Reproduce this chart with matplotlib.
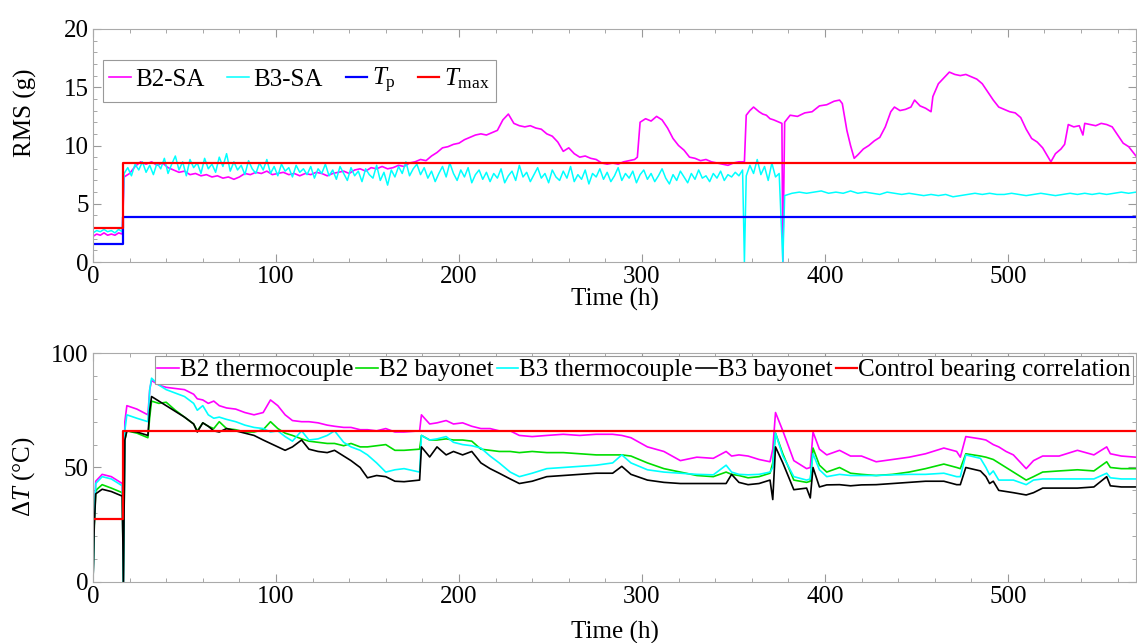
import matplotlib
matplotlib.use("Agg")
import matplotlib.pyplot as plt
import numpy as np

plt.rcParams['font.family'] = ['Liberation Serif', 'DejaVu Serif']
plt.rcParams['mathtext.fontset'] = 'custom'
plt.rcParams['mathtext.rm'] = 'Liberation Serif'
plt.rcParams['mathtext.it'] = 'Liberation Serif:italic'

# ---- top panel: vibration RMS ----
b2_sa_t = [0, 2, 4, 6, 8, 10, 12, 14, 16,
           17, 20, 23, 26, 29, 32, 35, 38, 41, 44,
           47, 50, 53, 56, 59, 62, 65, 68, 71, 74,
           77, 80, 83, 86, 89, 92, 95, 98, 101, 104,
           107, 110, 113, 116, 119, 122, 125, 128, 131, 134,
           137, 140, 143, 146, 149, 152, 155, 158, 161, 164,
           167, 170, 173, 176, 179, 182, 185, 188, 191, 194,
           197, 200, 203, 206, 209, 212, 215, 218, 221, 224,
           227, 230, 233, 236, 239, 242, 245, 248, 251, 254,
           257, 260, 263, 266, 269, 272, 275, 278, 281, 284,
           287, 290, 293, 296, 297.5, 299, 302, 305, 308, 311, 314,
           317, 320, 323, 326, 329, 332, 335, 338, 341, 344,
           347, 350, 353, 356,
           357, 359, 361, 364, 366, 368, 370, 372, 375, 376.5, 377, 378,
           381, 385, 389, 393, 397, 401, 405, 408, 409.5, 412, 414, 416,
           418, 421, 424, 427, 430, 433, 436, 438, 441, 444, 447, 449,
           452, 455, 458, 459, 462, 465, 468, 471, 474, 477, 480, 483,
           486, 489, 492, 495, 498, 501, 504, 507, 510, 513, 516, 519,
           522, 523.5, 526, 529, 531, 533, 536, 539, 541, 542, 545, 548,
           551, 554, 557, 560, 563, 566, 568, 570]
b2_sa = [2.2, 2.4, 2.3, 2.5, 2.3, 2.4, 2.3, 2.5, 2.4,
         7.3, 7.6, 8.2, 8.6, 8.4, 8.6, 8.3, 8.5, 8.1, 7.9,
         7.7, 7.8, 7.5, 7.6, 7.4, 7.5, 7.3, 7.4, 7.2, 7.3,
         7.1, 7.3, 7.6, 7.5, 7.7, 7.6, 7.8, 7.5, 7.6, 7.7,
         7.5, 7.6, 7.4, 7.6, 7.5, 7.7, 7.6, 7.4, 7.6, 7.7,
         7.8, 7.6, 7.9, 8.0, 7.8, 8.1, 8.0, 8.2, 8.0, 8.1,
         8.3, 8.2, 8.5, 8.6, 8.8, 8.7, 9.1, 9.4, 9.8, 9.9,
         10.1, 10.2, 10.5, 10.7, 10.9, 11.0, 10.9, 11.1, 11.3, 12.2,
         12.7, 11.9, 11.7, 11.6, 11.7, 11.5, 11.4, 11.0, 10.8, 10.3,
         9.5, 9.8, 9.3, 9.0, 9.1, 8.9, 8.8, 8.5, 8.4, 8.5,
         8.4, 8.6, 8.7, 8.8, 9.0, 12.0, 12.3, 12.1, 12.5, 12.2, 11.5,
         10.6, 10.0, 9.6, 9.0, 8.9, 8.7, 8.8, 8.6, 8.5, 8.4,
         8.3, 8.5, 8.6, 8.6,
         12.6, 13.0, 13.3, 12.9, 12.7, 12.6, 12.3, 12.2, 12.0, 11.9, 0, 12.0,
         12.6, 12.5, 12.8, 12.9, 13.4, 13.5, 13.8, 13.9, 13.6, 11.3, 10.0, 8.9,
         9.2, 9.7, 10.0, 10.4, 10.7, 11.6, 12.9, 13.3, 13.0, 13.1, 13.3, 13.9,
         13.4, 13.2, 12.9, 14.2, 15.3, 15.8, 16.3, 16.1, 16.0, 16.1, 15.9, 15.7,
         15.3, 14.6, 13.9, 13.3, 13.1, 12.9, 12.8, 12.4, 11.4, 10.6, 10.3, 9.8,
         9.0, 8.6, 9.3, 9.7, 10.1, 11.8, 11.6, 11.7, 10.9, 11.9, 11.8, 11.7,
         11.9, 11.8, 11.6, 10.9, 10.2, 9.9, 9.5, 9.1]

b3_sa_start = [2.5, 2.7, 2.6, 2.8, 2.6, 2.7, 2.5, 2.8, 2.6]          # t = 0..16, every 2 h
b3_sa_mid = [7.6, 8.1, 7.4, 8.4, 7.9, 8.6, 7.7, 8.3, 7.5, 8.5,       # t = 17..355, every 2 h
             8.0, 8.9, 7.6, 8.4, 9.1, 7.9, 8.6, 7.4, 8.8, 8.1,
             8.5, 7.6, 8.9, 8.0, 8.4, 7.7, 9.0, 8.2, 9.3, 7.8,
             8.6, 7.9, 8.3, 7.5, 8.7, 8.0, 7.6, 8.5, 7.9, 8.8,
             7.6, 8.2, 7.4, 8.4, 7.8, 8.1, 7.3, 8.3, 7.7, 8.0,
             7.5, 8.2, 7.2, 8.0, 7.6, 8.4, 7.4, 7.9, 7.1, 8.2,
             7.6, 7.0, 8.1, 7.4, 7.8, 6.9, 8.0, 7.5, 7.2, 8.3,
             7.0, 7.7, 6.6, 7.9, 7.3, 8.2, 7.6, 8.6, 7.4, 8.0,
             8.4, 7.5, 8.1, 7.2, 7.8, 6.9, 7.6, 8.2, 7.3, 8.5,
             7.6, 7.0, 7.9, 7.3, 8.1, 6.8, 7.5, 7.9, 7.1, 7.7,
             6.9, 7.6, 7.2, 8.0, 6.8, 7.4, 7.8, 7.0, 8.3, 7.3,
             7.7, 6.9, 7.5, 8.1, 7.2, 7.6, 6.8, 7.9, 7.3, 7.0,
             7.8, 7.2, 8.2, 6.9, 7.5, 7.1, 7.9, 6.7, 7.6, 7.3,
             8.0, 7.1, 7.7, 6.9, 7.4, 8.1, 7.0, 7.6, 7.2, 7.8,
             6.8, 7.5, 7.9, 7.1, 7.6, 6.9, 7.4, 8.0, 7.2, 6.7,
             7.5, 7.0, 7.8, 7.3, 6.8, 7.6, 7.1, 7.9, 7.2, 7.4,
             6.9, 7.6, 7.2, 7.8, 7.0, 7.5, 7.3, 7.7, 7.4, 7.9]
b3_sa_gap = [7.4, 8.3, 7.6, 8.8, 7.5, 8.2, 7.0, 8.5, 7.3, 7.6]      # t = 357..375, every 2 h
b3_sa_end = [5.7, 5.9, 6.0, 5.9, 6.0, 6.1, 5.9, 6.0, 5.9, 6.1,      # t = 378..570, every 4 h
             5.9, 6.0, 5.9, 5.8, 6.0, 5.9, 5.8, 5.9, 5.8, 5.7,
             5.8, 5.7, 5.8, 5.6, 5.7, 5.8, 5.9, 5.8, 5.9, 5.8,
             5.8, 5.9, 5.8, 5.7, 5.8, 5.9, 5.8, 5.7, 5.8, 5.9,
             5.8, 5.9, 5.8, 5.9, 5.8, 5.9, 6.0, 5.9, 6.0]
b3_sa_t = np.concatenate([np.arange(0, 17, 2), np.arange(17, 356, 2), [356],
                          np.arange(357, 376, 2), [377], np.arange(378, 571, 4)])
b3_sa = np.concatenate([b3_sa_start, b3_sa_mid, [0], b3_sa_gap, [0], b3_sa_end])

step_t = [0, 16.5, 570]
tp = [1.55, 3.85, 3.85]
tmax = [2.9, 8.5, 8.5]

# ---- bottom panel: temperature rise ----
dt_t = [0, 0.7, 1.5, 5, 10, 16, 16.6, 17.4, 18.5, 24, 30, 31, 32, 36, 40, 45, 50, 55, 57, 60,
        63, 66, 69, 73, 78, 83, 88, 93, 97, 101, 105, 109, 114, 118, 123, 128, 132, 137, 141, 146,
        150, 155, 160, 165, 170, 178.5, 179.5, 184, 188, 193, 197, 202, 207, 212, 217, 222, 228, 233, 240, 248,
        257, 266, 275, 284, 289, 294, 303, 312, 321, 330, 339, 346, 349, 353, 358, 364, 370, 371.5, 373, 377,
        383, 390, 392, 393.5, 397, 401, 408, 414, 420, 428, 437, 446, 455, 465, 472, 474, 477, 485, 488, 490,
        492, 495, 499, 503, 510, 514, 519, 528, 538, 547, 554, 556, 562, 570]
b2_tc = [0, 27, 44, 47, 46, 43, 0, 70, 77, 75.5, 73, 84, 88, 86, 85, 84.5, 84, 82, 80, 79.5,
         78, 79, 77, 76, 75.5, 74, 73, 74, 79.5, 77, 73, 70.5, 70, 70, 69.5, 68.5, 68, 67.5, 67.5, 66.5,
         66.5, 66, 67, 65.5, 65.5, 66, 73, 69, 69.5, 70.5, 69, 69.5, 68, 67, 67, 66, 66, 64, 63.5, 64,
         64.5, 64, 64.5, 64.5, 64, 63, 59, 57, 53, 54.5, 54, 57, 55, 55.5, 55, 53.5, 52.5, 58, 74, 66,
         53, 49.5, 50, 65.5, 58, 55.5, 57.5, 55, 55, 52.5, 53.5, 54.5, 56, 58.5, 57, 54.5, 63.5, 62.5, 62, 61,
         60, 59, 57, 55.5, 49.5, 53, 55, 55, 57.5, 55.5, 59, 56, 55, 54.5]
b2_bay = [0, 25, 40, 42.5, 41, 39, 0, 62, 66, 65, 63, 72, 79, 78, 78.5, 75, 72, 69, 66, 69.5,
          68, 67, 70, 67, 66.5, 65.5, 65.5, 66.5, 70, 67, 65, 64, 62.5, 61.5, 61, 60.5, 60.5, 59.5, 60.5, 59,
          59, 59.5, 60, 57.5, 57.5, 58, 64, 62, 62, 62.5, 62, 62, 61.5, 58, 57.5, 57, 57, 56.5, 57, 56.5,
          56.5, 56, 55.5, 55.5, 55.5, 55, 52, 49.5, 48, 46.5, 46, 48, 47, 46.5, 45.5, 46, 47.5, 52, 65, 56,
          44.5, 43.5, 44, 58.5, 51, 48, 50, 47.5, 47, 46.5, 47, 48, 49.5, 51.5, 50, 49.5, 56, 55, 54.5, 54,
          53.5, 52, 50, 48, 44.5, 46, 48, 48.5, 49, 48.5, 52.5, 50, 49.5, 49.5]
b3_tc = [0, 27, 43, 46, 45, 42, 0, 66, 73, 71.5, 70, 84, 89, 86, 84, 82.5, 81, 78, 75, 77,
         73, 71.5, 72, 71, 70, 68.5, 67.5, 67, 65.5, 66, 63.5, 61.5, 66, 62, 62.5, 64, 66, 61, 59, 57.5,
         55.5, 52, 48, 49, 49.5, 48, 64, 62, 62.5, 63.5, 61, 60, 59.5, 58.5, 55, 52, 48, 46, 47.5, 49.5,
         50, 50.5, 51, 52, 55.5, 52, 49, 48, 47.5, 47, 46.8, 51, 48, 47, 46.8, 47, 48, 50, 65, 55,
         46, 44.5, 45, 56, 49, 46, 47, 46.5, 46.5, 46.5, 46.8, 47, 47, 47.5, 46, 46, 55.5, 54, 50, 46.8,
         48.5, 44.5, 44.5, 44.5, 42.5, 44.5, 45, 45, 45, 45, 47.5, 45.5, 45, 45]
b3_bay = [0, 25, 38.5, 40.5, 39.5, 37.5, 0, 62, 66, 65.5, 64, 75, 81, 79, 77, 74.5, 72, 69, 65.5, 69.5,
          68, 66, 65.5, 67, 66, 65, 64, 62, 60.5, 59, 57.5, 59, 62, 58, 57, 56.5, 57.5, 55, 53, 50,
          45.5, 46.5, 46, 44, 43.8, 44.5, 59, 54.6, 59, 55.5, 57, 55.5, 57, 52, 49.5, 47.5, 45, 43, 44, 46,
          46.5, 47, 47.5, 47.5, 50.5, 47, 44.5, 43.5, 43, 43, 43, 43, 47, 43.5, 42.5, 43, 44.5, 36, 59, 52,
          40.3, 41, 36.7, 50, 41.5, 42.4, 42.5, 42, 42.4, 42.5, 43, 43.5, 44, 44, 42.5, 42.5, 50, 48.5, 46, 43,
          44, 40, 39.5, 39, 38, 39, 41, 41, 41, 41.5, 46, 42, 41.5, 41.5]
corr_t = [0, 16.6, 570]
corr = [27.5, 66, 66]

fig = plt.figure(figsize=(11.37, 6.43), dpi=100)
ax1 = fig.add_axes([0.0818, 0.5925, 0.9173, 0.3624])
ax2 = fig.add_axes([0.0818, 0.0949, 0.9173, 0.3561])

ax1.plot(b2_sa_t, b2_sa, color='#ff00ff', lw=1.2, label='B2-SA')
ax1.plot(b3_sa_t, b3_sa, color='#00ffff', lw=1.1, label='B3-SA')
ax1.step(step_t, tp, where='post', color='#0000ff', lw=1.6, label=r'$T_\mathrm{p}$')
ax1.step(step_t, tmax, where='post', color='#ff0000', lw=1.6, label=r'$T_\mathrm{max}$')

ax2.plot(dt_t, b2_tc, color='#ff00ff', lw=1.2, label='B2 thermocouple')
ax2.plot(dt_t, b2_bay, color='#00dd00', lw=1.2, label='B2 bayonet')
ax2.plot(dt_t, b3_tc, color='#00ffff', lw=1.2, label='B3 thermocouple')
ax2.plot(dt_t, b3_bay, color='black', lw=1.2, label='B3 bayonet')
ax2.step(corr_t, corr, where='post', color='#ff0000', lw=1.6, label='Control bearing correlation')

for ax in (ax1, ax2):
    ax.set_xlim(0, 570)
    ax.set_xticks([0, 100, 200, 300, 400, 500])
    ax.set_xticks(np.arange(0, 571, 20), minor=True)
    ax.tick_params(which='both', direction='in', top=True, right=True,
                   color='#999999', labelsize=18, pad=3)
    ax.tick_params(which='major', length=6)
    ax.tick_params(which='minor', length=3)
    for s in ax.spines.values():
        s.set_color('#aaaaaa')
        s.set_linewidth(0.8)

ax1.set_ylim(0, 20)
ax1.set_yticks([0, 5, 10, 15, 20])
ax1.set_yticks(np.arange(0, 21, 1), minor=True)
ax1.set_ylabel('RMS (g)', fontsize=18)
ax1.yaxis.set_label_coords(-0.054, 0.64)
ax1.set_xlabel('Time (h)', fontsize=18, labelpad=0)

ax2.set_ylim(0, 100)
ax2.set_yticks([0, 50, 100])
ax2.set_yticks(np.arange(0, 101, 10), minor=True)
ax2.set_ylabel('Δ$T$ (°C)', fontsize=18)
ax2.yaxis.set_label_coords(-0.054, 0.46)
ax2.set_xlabel('Time (h)', fontsize=18, labelpad=9)

leg1 = ax1.legend(loc='upper left', bbox_to_anchor=(0.0096, 0.867), borderaxespad=0,
                  ncol=4, fontsize=18, handlelength=0.85, handletextpad=0.2,
                  columnspacing=0.9, borderpad=0.25, fancybox=False, framealpha=1)
leg1.get_frame().set_edgecolor('#999999')
leg1.get_frame().set_linewidth(0.8)

leg2 = ax2.legend(loc='upper left', bbox_to_anchor=(0.0594, 0.985), borderaxespad=0,
                  ncol=5, fontsize=18, handlelength=0.85, handletextpad=0.05,
                  columnspacing=0.12, borderpad=0.1, fancybox=False, framealpha=1)
leg2.get_frame().set_edgecolor('#999999')
leg2.get_frame().set_linewidth(0.8)

fig.savefig('out.png', dpi=100)
